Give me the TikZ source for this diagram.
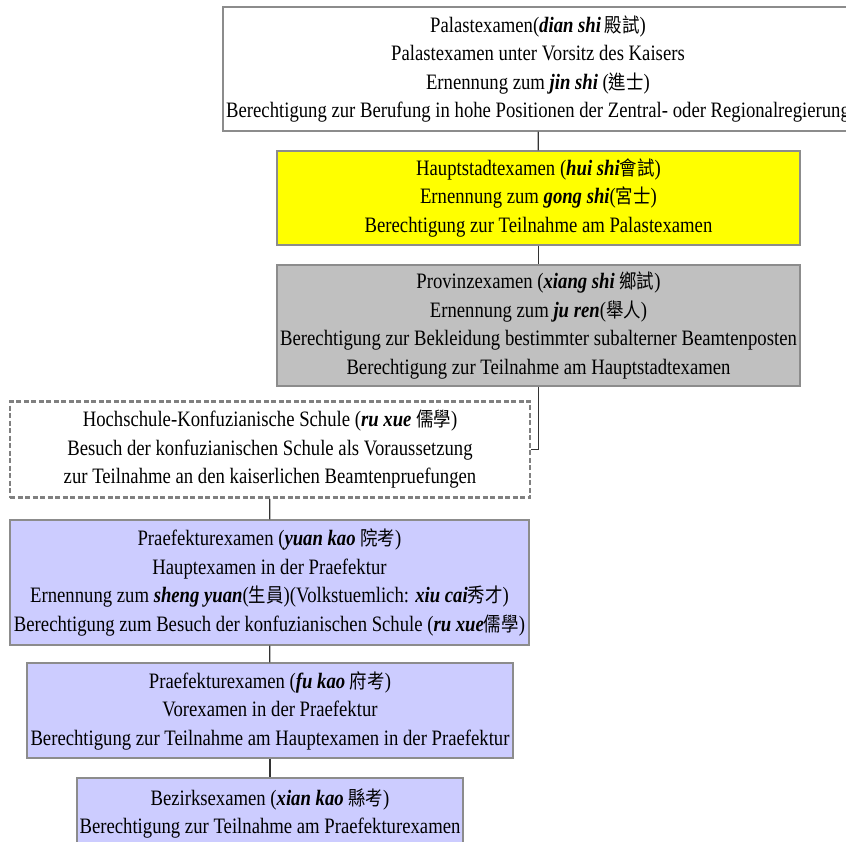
\documentclass[tikz,border=0pt]{standalone}
\usepackage{fontspec}
\setmainfont{Liberation Serif}[FakeStretch=0.85]
\newfontfamily\cjkfont{Noto Sans CJK TC}[FakeStretch=0.88,Scale=0.9]
\newcommand{\py}[1]{\textbf{\textit{#1}}}
\newcommand{\cj}[1]{{\cjkfont #1}}
\definecolor{bordergray}{HTML}{8C8C8C}
\definecolor{dashgray}{HTML}{808080}
\definecolor{linegray}{HTML}{333333}
\definecolor{boxgray}{HTML}{C0C0C0}
\definecolor{boxblue}{HTML}{CCCCFF}
\definecolor{boxyellow}{HTML}{FFFF00}
\tikzset{
  exbox/.style={draw=bordergray, line width=1.2pt, inner sep=0pt, align=center,
    font=\fontsize{22}{28.5}\selectfont, text=black},
  dashbox/.style={exbox, draw=dashgray, dash pattern=on 5pt off 2.5pt, line width=2.5pt},
  conn/.style={draw=linegray, line width=1.2pt}
}
\begin{document}
\begin{tikzpicture}[x=1pt,y=-1pt]
\useasboundingbox[fill=white] (0,0) rectangle (846,841);
\node[exbox, fill=white, minimum width=630pt, minimum height=124pt] (palast) at (538,69)
 {Palastexamen(\py{dian shi}\,\cj{殿試})\\
  Palastexamen unter Vorsitz des Kaisers\\
  Ernennung zum \py{jin shi} (\cj{進士})\\
  Berechtigung zur Berufung in hohe Positionen der Zentral- oder Regionalregierung};
\node[exbox, fill=boxyellow, minimum width=523pt, minimum height=94pt] (haupt) at (538.5,198)
 {Hauptstadtexamen (\py{hui shi}\cj{會試})\\
  Ernennung zum \py{gong shi}(\cj{宮士})\\
  Berechtigung zur Teilnahme am Palastexamen};
\node[exbox, fill=boxgray, minimum width=523pt, minimum height=121pt] (prov) at (538.5,325.5)
 {Provinzexamen (\py{xiang shi} \cj{鄉試})\\
  Ernennung zum \py{ju ren}(\cj{舉人})\\
  Berechtigung zur Bekleidung bestimmter subalterner Beamtenposten\\
  Berechtigung zur Teilnahme am Hauptstadtexamen};
\node[dashbox, fill=white, minimum width=520pt, minimum height=96pt] (hoch) at (270,449.5)
 {Hochschule-Konfuzianische Schule (\py{ru xue} \cj{儒學})\\
  Besuch der konfuzianischen Schule als Voraussetzung\\
  zur Teilnahme an den kaiserlichen Beamtenpruefungen};
\node[exbox, fill=boxblue, minimum width=519pt, minimum height=125pt] (yuan) at (269.5,582.5)
 {Praefekturexamen (\py{yuan kao} \cj{院考})\\
  Hauptexamen in der Praefektur\\
  Ernennung zum \py{sheng yuan}(\cj{生員})(Volkstuemlich: \py{xiu cai}\cj{秀才})\\
  Berechtigung zum Besuch der konfuzianischen Schule (\py{ru xue}\cj{儒學})};
\node[exbox, fill=boxblue, minimum width=486pt, minimum height=95pt] (fu) at (270,710.5)
 {Praefekturexamen (\py{fu kao} \cj{府考})\\
  Vorexamen in der Praefektur\\
  Berechtigung zur Teilnahme am Hauptexamen in der Praefektur};
\node[exbox, fill=boxblue, minimum width=386pt, minimum height=71pt] (xian) at (270,813.5)
 {Bezirksexamen (\py{xian kao} \cj{縣考})\\
  Berechtigung zur Teilnahme am Praefekturexamen};
\draw[conn] (palast) -- (haupt);
\draw[conn] (haupt) -- (prov);
\draw[conn] (prov.south) |- (hoch.east);
\draw[conn] (hoch) -- (yuan);
\draw[conn] (yuan) -- (fu);
\draw[conn] (fu) -- (xian);
\end{tikzpicture}
\end{document}
